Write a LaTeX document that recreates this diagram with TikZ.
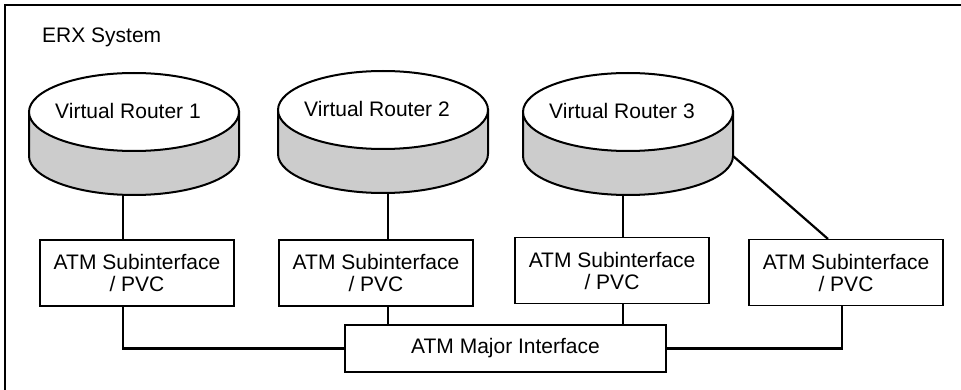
\documentclass[tikz,border=0pt]{standalone}
\usepackage{fontspec}
\setmainfont{Liberation Sans}
\usetikzlibrary{backgrounds}
\colorlet{DiskGray}{gray!40}
\tikzstyle{subBlock}=[draw,fill=white,line width=1.1pt,minimum width=194pt,minimum height=66pt,inner sep=1pt,align=center]
\tikzstyle{majorBlock}=[draw,fill=white,line width=1.1pt,minimum width=321pt,minimum height=47pt,inner sep=1pt]
\tikzstyle{invisNode}=[inner sep=0pt]
\tikzstyle{link}=[line width=2.2pt]
\tikzstyle{diskLine}=[line width=2pt]
\newcommand{\bigfont}{\fontsize{21}{22}\selectfont}

\begin{document}
\begin{tikzpicture}[x=1pt,y=-1pt,font=\bigfont]
    \useasboundingbox (0,0) rectangle (961,390);
    \clip (0,0) rectangle (961,390);
    % System frame
    \draw[line width=1.6pt] (5,5) rectangle (1000,420);
    \node[invisNode,anchor=base west] (erx) at (42,43) {ERX System};

    % Virtual routers
    \foreach \n/\x/\y in {1/134/112, 2/383/110, 3/628/112} {
        \draw[diskLine,fill=DiskGray] (\x-105,\y) -- (\x-105,\y+44) arc[start angle=180,end angle=0,x radius=105,y radius=39] -- (\x+105,\y) -- cycle;
        \draw[diskLine,fill=white] (\x,\y) ellipse[x radius=105,y radius=39];
        \coordinate (vr\n) at (\x,\y+44);
        \node[invisNode] (vrtext\n) at (\x-6,\y-1) {Virtual Router \n};
    }

    % Subinterfaces
    \node[subBlock] (sub1) at (137,273) {ATM Subinterface\\/ PVC};
    \node[subBlock] (sub2) at (376,273) {ATM Subinterface\\/ PVC};
    \node[subBlock] (sub3) at (612,270.5) {ATM Subinterface\\/ PVC};
    \node[subBlock] (sub4) at (846,272.5) {ATM Subinterface\\/ PVC};
    \node[majorBlock] (major) at (505.5,348.5) {ATM Major Interface};

    % Connections
    \begin{scope}[on background layer]
	\draw[link] ([xshift=-11pt]vr1) -- ([xshift=-14pt]sub1.north);
	\draw[link] ([xshift=5pt]vr2) -- ([xshift=12pt]sub2.north);
	\draw[link] ([xshift=-5pt]vr3) -- ([xshift=11pt]sub3.north);
	\draw[link] ([xshift=105pt]vr3) -- ([xshift=-18pt]sub4.north);
	\draw[link] ([xshift=-14pt]sub1.south) |- (major.west);
	\draw[link] ([xshift=12pt]sub2.south) -- ([xshift=12pt]sub2.south |- major.north);
	\draw[link] ([xshift=11pt]sub3.south) -- ([xshift=11pt]sub3.south |- major.north);
	\draw[link] ([xshift=-4pt]sub4.south) |- (major.east);
    \end{scope}
\end{tikzpicture}
\end{document}
